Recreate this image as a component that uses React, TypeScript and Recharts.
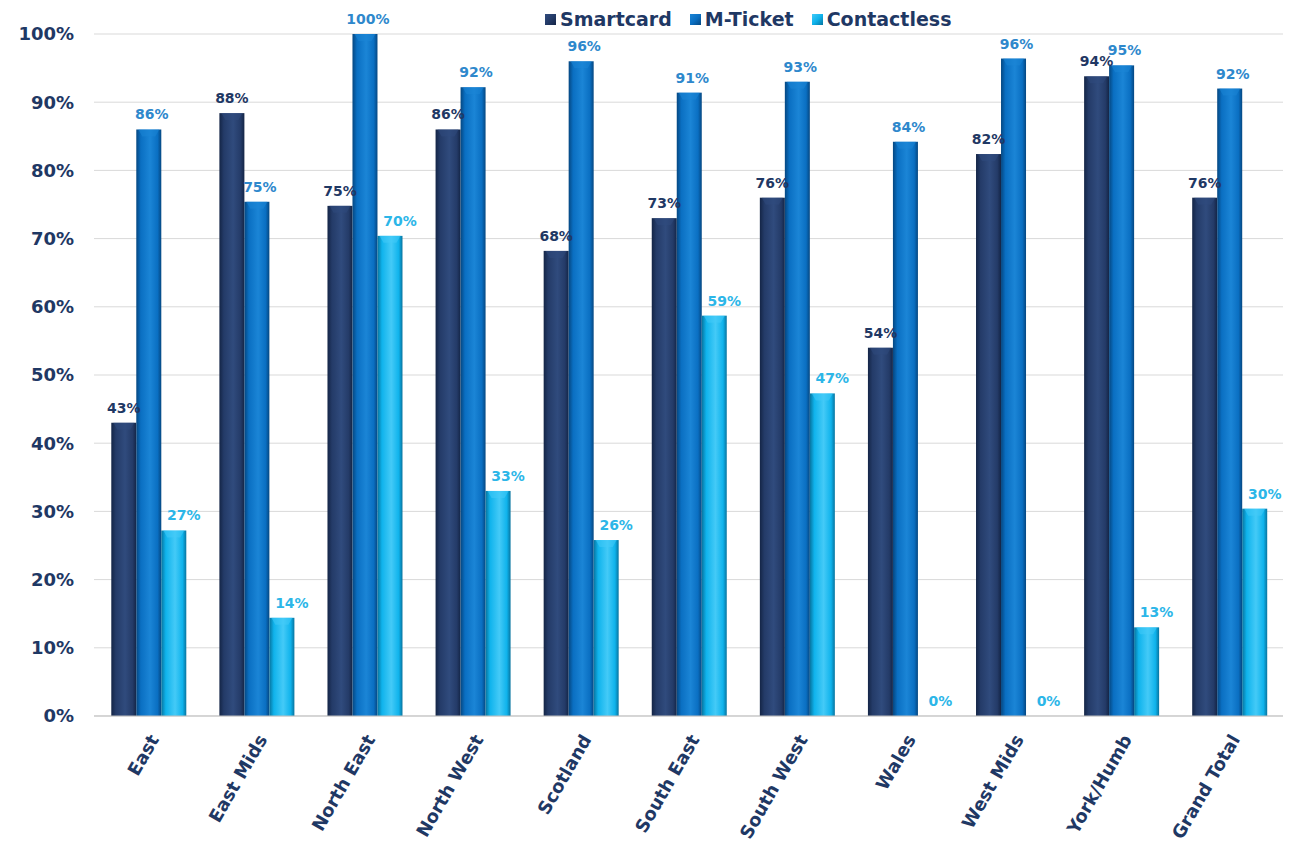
import React from 'react';
import {
  Bar,
  BarChart,
  CartesianGrid,
  LabelList,
  Legend,
  XAxis,
  YAxis,
} from 'recharts';

const regions = [
  'East',
  'East Mids',
  'North East',
  'North West',
  'Scotland',
  'South East',
  'South West',
  'Wales',
  'West Mids',
  'York/Humb',
  'Grand Total',
];

const smartcard = [43, 88.4, 74.8, 86, 68.2, 73, 76, 54, 82.4, 93.8, 76];
const mTicket = [86, 75.4, 100, 92.2, 96, 91.4, 93, 84.2, 96.4, 95.4, 92];
const contactless = [27.2, 14.4, 70.4, 33, 25.8, 58.7, 47.3, 0, 0, 13, 30.4];

const yTicks = [0, 10, 20, 30, 40, 50, 60, 70, 80, 90, 100];

const data = regions.map((region, i) => ({
  region,
  smartcard: smartcard[i],
  mTicket: mTicket[i],
  contactless: contactless[i],
}));

const FONT = '"DejaVu Sans", Verdana, sans-serif';
const NAVY = '#1f3864';

const series = [
  {
    key: 'smartcard',
    name: 'Smartcard',
    edge: '#142546',
    base: '#243b68',
    light: '#304b7d',
    label: '#1f3864',
    dx: 0,
  },
  {
    key: 'mTicket',
    name: 'M-Ticket',
    edge: '#054781',
    base: '#0a6fc2',
    light: '#1b85d6',
    label: '#2e88cc',
    dx: 3,
  },
  {
    key: 'contactless',
    name: 'Contactless',
    edge: '#07749f',
    base: '#0fb3ec',
    light: '#44caf7',
    label: '#2cb6e8',
    dx: 10,
  },
];

const BevelBar = (props: any) => {
  const { x, y, width, height, gid, cap } = props;
  if (!height || height <= 0) return null;
  const c = Math.min(7, height);
  return (
    <g>
      <rect x={x} y={y} width={width} height={height} fill={`url(#${gid})`} />
      <path
        d={`M${x + 2},${y} L${x + width - 2},${y} L${x + width - 6},${y + c} L${x + 6},${y + c} Z`}
        fill={cap}
        opacity={0.55}
      />
    </g>
  );
};

const XTick = (props: any) => {
  const { x, y, payload } = props;
  const tx = x + 6;
  const ty = y + 12;
  return (
    <text
      x={tx}
      y={ty}
      transform={`rotate(-60, ${tx}, ${ty})`}
      textAnchor="end"
      dominantBaseline="central"
      fill={NAVY}
      fontFamily={FONT}
      fontWeight="bold"
      fontSize={18}
    >
      {payload.value}
    </text>
  );
};

const LegendContent = () => (
  <div style={{ display: 'flex', alignItems: 'center', fontFamily: FONT }}>
    {series.map((s) => (
      <div
        key={s.key}
        style={{ display: 'flex', alignItems: 'center', marginRight: 18 }}
      >
        <span
          style={{
            display: 'inline-block',
            width: 11,
            height: 11,
            marginRight: 4,
            background: `linear-gradient(135deg, ${s.light}, ${s.base} 50%, ${s.edge})`,
          }}
        />
        <span style={{ color: NAVY, fontWeight: 'bold', fontSize: 19 }}>
          {s.name}
        </span>
      </div>
    ))}
  </div>
);

export default function App() {
  return (
    <div style={{ position: 'absolute', left: 0, top: 0, background: '#fff' }}>
      <BarChart
        width={1296}
        height={849}
        data={data}
        margin={{ top: 12, right: 13, bottom: 0, left: 0 }}
        barCategoryGap="16%"
        barGap={0}
      >
        <defs>
          {series.map((s) => (
            <linearGradient key={s.key} id={`g-${s.key}`} x1="0" y1="0" x2="1" y2="0">
              <stop offset="0%" stopColor={s.edge} />
              <stop offset="18%" stopColor={s.base} />
              <stop offset="55%" stopColor={s.light} />
              <stop offset="85%" stopColor={s.base} />
              <stop offset="100%" stopColor={s.edge} />
            </linearGradient>
          ))}
        </defs>
        <CartesianGrid vertical={false} stroke="#d9d9d9" />
        <XAxis
          dataKey="region"
          interval={0}
          height={133}
          tick={<XTick />}
          tickLine={false}
          axisLine={{ stroke: '#bfbfbf' }}
        />
        <YAxis
          width={94}
          domain={[0, 100]}
          ticks={yTicks}
          tickFormatter={(v: number) => `${v}%`}
          tickLine={false}
          axisLine={false}
          tickMargin={14}
          tick={{
            fill: NAVY,
            fontFamily: FONT,
            fontWeight: 'bold',
            fontSize: 18,
          }}
        />
        <Legend
          verticalAlign="top"
          content={<LegendContent />}
          wrapperStyle={{ position: 'absolute', top: 8, left: 545, width: 'auto' }}
        />
        {series.map((s) => (
          <Bar
            key={s.key}
            dataKey={s.key}
            name={s.name}
            fill={s.base}
            isAnimationActive={false}
            shape={(p: any) => <BevelBar {...p} gid={`g-${s.key}`} cap={s.light} />}
          >
            <LabelList
              dataKey={s.key}
              position="top"
              offset={10}
              dx={s.dx}
              formatter={(v: any) => `${Math.round(Number(v))}%`}
              fill={s.label}
              fontFamily={FONT}
              fontWeight="bold"
              fontSize={14}
            />
          </Bar>
        ))}
      </BarChart>
    </div>
  );
}
